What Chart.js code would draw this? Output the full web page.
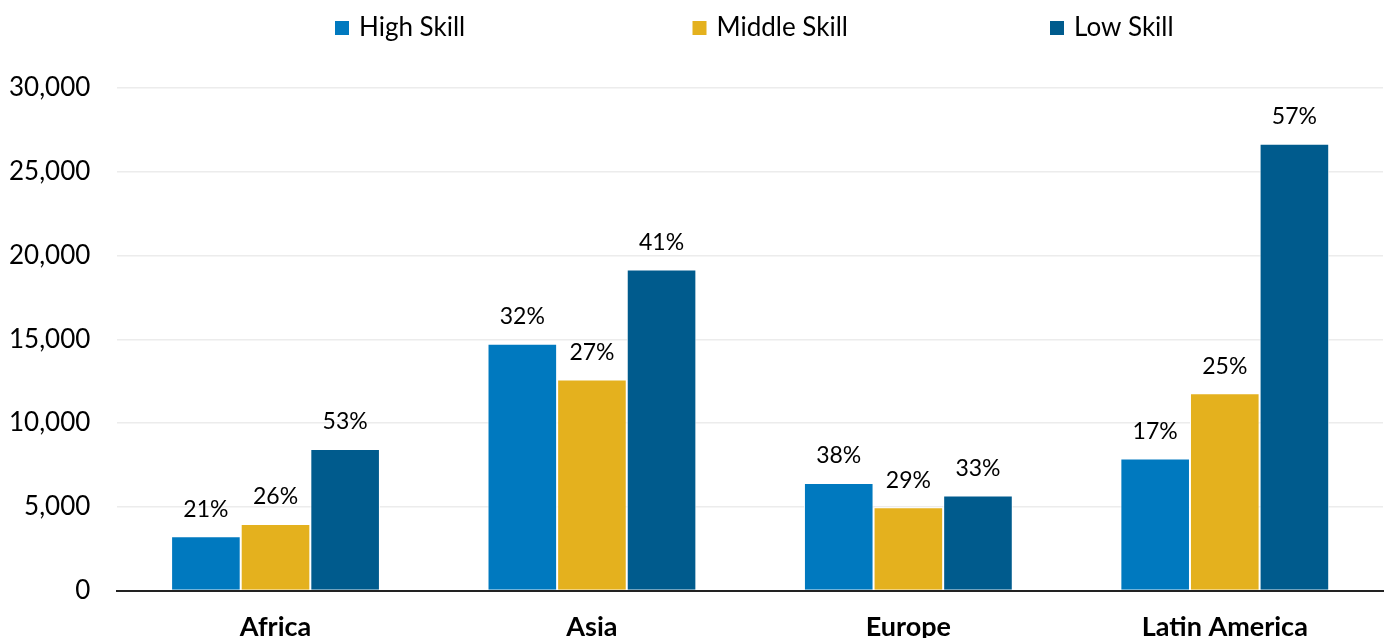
<!DOCTYPE html>
<html>
<head>
<meta charset="utf-8">
<script src="https://cdn.jsdelivr.net/npm/chart.js@4/dist/chart.umd.min.js"></script>
<style>
  html, body { margin: 0; padding: 0; background: #fff; }
  #chart { display: block; }
</style>
</head>
<body>
<canvas id="chart" width="1390" height="638"></canvas>
<script>
const regions = ['Africa', 'Asia', 'Europe', 'Latin America'];
const seriesNames = ['High Skill', 'Middle Skill', 'Low Skill'];
const highSkill = [3250, 14730, 6430, 7890];
const middleSkill = [3980, 12600, 4980, 11780];
const lowSkill = [8450, 19160, 5680, 26670];
const highPct = ['21%', '32%', '38%', '17%'];
const middlePct = ['26%', '27%', '29%', '25%'];
const lowPct = ['53%', '41%', '33%', '57%'];
const yTicks = [0, 5000, 10000, 15000, 20000, 25000, 30000];

const colors = ['rgb(0,121,191)', 'rgb(228,177,30)', 'rgb(0,91,141)'];
const pctLabels = [highPct, middlePct, lowPct];
const fontFamily = 'Lato, "Open Sans", sans-serif';

// percent labels drawn above each bar
const pctPlugin = {
  id: 'pctLabels',
  afterDatasetsDraw(chart) {
    const ctx = chart.ctx;
    ctx.save();
    ctx.font = '23px ' + fontFamily;
    ctx.fillStyle = '#000';
    ctx.textAlign = 'center';
    ctx.textBaseline = 'middle';
    chart.data.datasets.forEach((ds, di) => {
      const meta = chart.getDatasetMeta(di);
      meta.data.forEach((bar, i) => {
        ctx.fillText(pctLabels[di][i], bar.x, bar.y - 27);
      });
    });
    ctx.restore();
  }
};

// legend with equal slots, like the office one
const slotLegend = {
  id: 'slotLegend',
  afterDraw(chart) {
    const ctx = chart.ctx;
    const slot = 357.5;
    const startX = chart.width / 2 - 360;
    const y = 28;
    ctx.save();
    ctx.font = '26px ' + fontFamily;
    ctx.textBaseline = 'middle';
    ctx.textAlign = 'left';
    chart.data.datasets.forEach((ds, i) => {
      const x = startX + i * slot;
      ctx.fillStyle = ds.backgroundColor;
      ctx.fillRect(x, y - 7, 14, 14);
      ctx.fillStyle = '#000';
      ctx.fillText(ds.label, x + 24, y);
    });
    ctx.restore();
  }
};

new Chart(document.getElementById('chart'), {
  type: 'bar',
  data: {
    labels: regions,
    datasets: [
      { label: seriesNames[0], data: highSkill, backgroundColor: colors[0] },
      { label: seriesNames[1], data: middleSkill, backgroundColor: colors[1] },
      { label: seriesNames[2], data: lowSkill, backgroundColor: colors[2] },
    ].map(d => Object.assign(d, {
      borderColor: '#fff',
      borderWidth: 1,
      categoryPercentage: 0.66,
      barPercentage: 1.0,
    })),
  },
  options: {
    responsive: false,
    animation: false,
    layout: { padding: { left: -18, right: 7, top: 88, bottom: -17 } },
    plugins: {
      legend: { display: false },
      tooltip: { enabled: false },
    },
    scales: {
      x: {
        grid: { display: false },
        border: { color: '#222', width: 2 },
        ticks: {
          color: '#000',
          padding: 12,
          font: { family: fontFamily, size: 27, weight: 'bold' },
        },
      },
      y: {
        min: 0,
        max: 30000,
        afterBuildTicks(axis) {
          axis.ticks = yTicks.map(v => ({ value: v }));
        },
        grid: { color: '#ececec', lineWidth: 1.5, drawTicks: false },
        border: { display: false },
        ticks: {
          color: '#000',
          padding: 27,
          font: { family: fontFamily, size: 26 },
        },
      },
    },
  },
  plugins: [pctPlugin, slotLegend],
});
</script>
</body>
</html>
